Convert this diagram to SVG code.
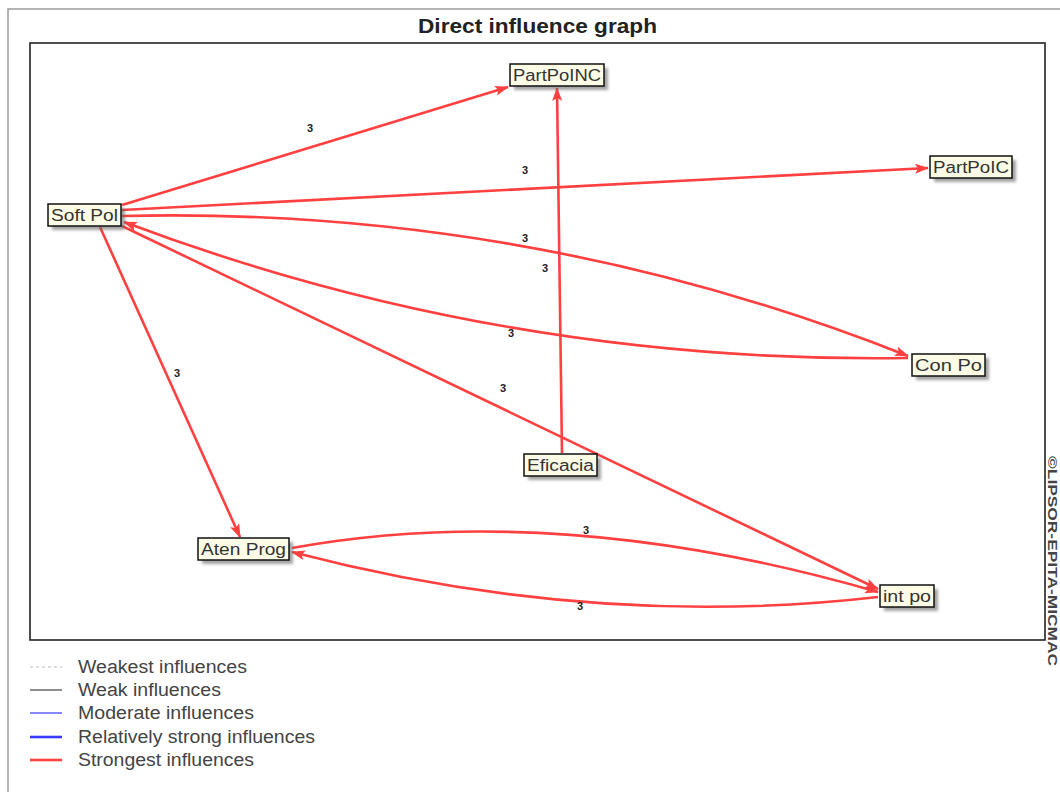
<svg xmlns="http://www.w3.org/2000/svg" width="1060" height="792" viewBox="0 0 1060 792">
<style>
.frame{fill:#fff;stroke:#9a9a9a;stroke-width:1.5}
.plot{fill:#fff;stroke:#222;stroke-width:1.6}
.title{font-family:"Liberation Sans",Arial,sans-serif;font-weight:bold;font-size:21px;fill:#222}
.nbox{fill:#fbfbe6;stroke:#111;stroke-width:1.5}
.nsh{fill:#666;opacity:0.6}
.ntxt{font-family:"Liberation Sans",Arial,sans-serif;font-size:16px;fill:#333}
.edge{fill:none;stroke:#ff4040;stroke-width:2.6;marker-end:url(#ah)}
.elab{font-family:"Liberation Sans",Arial,sans-serif;font-size:11px;font-weight:bold;fill:#222}
.leg{font-family:"Liberation Sans",Arial,sans-serif;font-size:18px;fill:#444}
.wm{font-family:"Liberation Sans",Arial,sans-serif;font-size:12px;font-weight:bold;fill:#444}
</style>
<defs>
<marker id="ah" viewBox="0 0 14 10" refX="13" refY="5" markerWidth="14" markerHeight="10" markerUnits="userSpaceOnUse" orient="auto">
<path d="M0,0 L14,5 L0,10 L3,5 Z" fill="#ff4040"/>
</marker>
<filter id="blur" x="-20%" y="-50%" width="140%" height="200%"><feGaussianBlur stdDeviation="1.5"/></filter>
</defs>
<rect x="0" y="0" width="1060" height="792" fill="#fff"/>
<path d="M8,792 L8,9 L1060,9" class="frame" fill="none"/>
<text class="title" x="418" y="33" textLength="239" lengthAdjust="spacingAndGlyphs">Direct influence graph</text>
<rect class="plot" x="30" y="43" width="1015" height="597"/>

<g id="connectors">
<path class="edge" d="M122,205 L508,87"/>
<path class="edge" d="M122,210 L928,168"/>
<path class="edge" d="M122,216 Q529,206 908,356"/>
<path class="edge" d="M908,358 Q501,364 124,222"/>
<path class="edge" d="M100,227 L240,537"/>
<path class="edge" d="M122,226 L878,589"/>
<path class="edge" d="M562,453 L557,88"/>
<path class="edge" d="M292,548 Q560,500 878,592"/>
<path class="edge" d="M878,597 Q590,630 292,552"/>
<text class="elab" x="310" y="132" text-anchor="middle">3</text>
<text class="elab" x="525" y="174" text-anchor="middle">3</text>
<text class="elab" x="525" y="242" text-anchor="middle">3</text>
<text class="elab" x="545" y="272" text-anchor="middle">3</text>
<text class="elab" x="511" y="337" text-anchor="middle">3</text>
<text class="elab" x="177" y="377" text-anchor="middle">3</text>
<text class="elab" x="503" y="392" text-anchor="middle">3</text>
<text class="elab" x="586" y="534" text-anchor="middle">3</text>
<text class="elab" x="580" y="610" text-anchor="middle">3</text>
</g>

<g id="node-partpoinc">
<rect class="nsh" x="514" y="68" width="94" height="22" filter="url(#blur)"/>
<rect class="nbox" x="510" y="64" width="94" height="22"/>
<text class="ntxt" x="513" y="81" textLength="88" lengthAdjust="spacingAndGlyphs">PartPoINC</text>
</g>
<g id="node-partpoic">
<rect class="nsh" x="934" y="160" width="82" height="22" filter="url(#blur)"/>
<rect class="nbox" x="930" y="156" width="82" height="22"/>
<text class="ntxt" x="933" y="173" textLength="76" lengthAdjust="spacingAndGlyphs">PartPoIC</text>
</g>
<g id="node-softpol">
<rect class="nsh" x="52" y="208" width="73" height="22" filter="url(#blur)"/>
<rect class="nbox" x="48" y="204" width="73" height="22"/>
<text class="ntxt" x="51" y="221" textLength="67" lengthAdjust="spacingAndGlyphs">Soft Pol</text>
</g>
<g id="node-conpo">
<rect class="nsh" x="916" y="358" width="73" height="22" filter="url(#blur)"/>
<rect class="nbox" x="912" y="354" width="73" height="22"/>
<text class="ntxt" x="915" y="371" textLength="67" lengthAdjust="spacingAndGlyphs">Con Po</text>
</g>
<g id="node-eficacia">
<rect class="nsh" x="528" y="458" width="73" height="22" filter="url(#blur)"/>
<rect class="nbox" x="524" y="454" width="73" height="22"/>
<text class="ntxt" x="527" y="471" textLength="67" lengthAdjust="spacingAndGlyphs">Eficacia</text>
</g>
<g id="node-atenprog">
<rect class="nsh" x="202" y="542" width="91" height="22" filter="url(#blur)"/>
<rect class="nbox" x="198" y="538" width="91" height="22"/>
<text class="ntxt" x="201" y="555" textLength="85" lengthAdjust="spacingAndGlyphs">Aten Prog</text>
</g>
<g id="node-intpo">
<rect class="nsh" x="884" y="589" width="54" height="22" filter="url(#blur)"/>
<rect class="nbox" x="880" y="585" width="54" height="22"/>
<text class="ntxt" x="883" y="602" textLength="48" lengthAdjust="spacingAndGlyphs">int po</text>
</g>

<text class="wm" transform="translate(1048,456) rotate(90)" textLength="210" lengthAdjust="spacingAndGlyphs">©LIPSOR-EPITA-MICMAC</text>

<g id="legend">
<line x1="30" y1="667" x2="62" y2="667" stroke="#bbb" stroke-width="1" stroke-dasharray="3,3"/>
<line x1="30" y1="690" x2="62" y2="690" stroke="#444" stroke-width="1.2"/>
<line x1="30" y1="713" x2="62" y2="713" stroke="#3a3aff" stroke-width="1.2"/>
<line x1="30" y1="737" x2="62" y2="737" stroke="#3a3aff" stroke-width="2.6"/>
<line x1="30" y1="760" x2="62" y2="760" stroke="#ff4040" stroke-width="2.6"/>
<text class="leg" x="78" y="673" textLength="169" lengthAdjust="spacingAndGlyphs">Weakest influences</text>
<text class="leg" x="78" y="696" textLength="143" lengthAdjust="spacingAndGlyphs">Weak influences</text>
<text class="leg" x="78" y="719" textLength="176" lengthAdjust="spacingAndGlyphs">Moderate influences</text>
<text class="leg" x="78" y="743" textLength="237" lengthAdjust="spacingAndGlyphs">Relatively strong influences</text>
<text class="leg" x="78" y="766" textLength="176" lengthAdjust="spacingAndGlyphs">Strongest influences</text>
</g>
</svg>
